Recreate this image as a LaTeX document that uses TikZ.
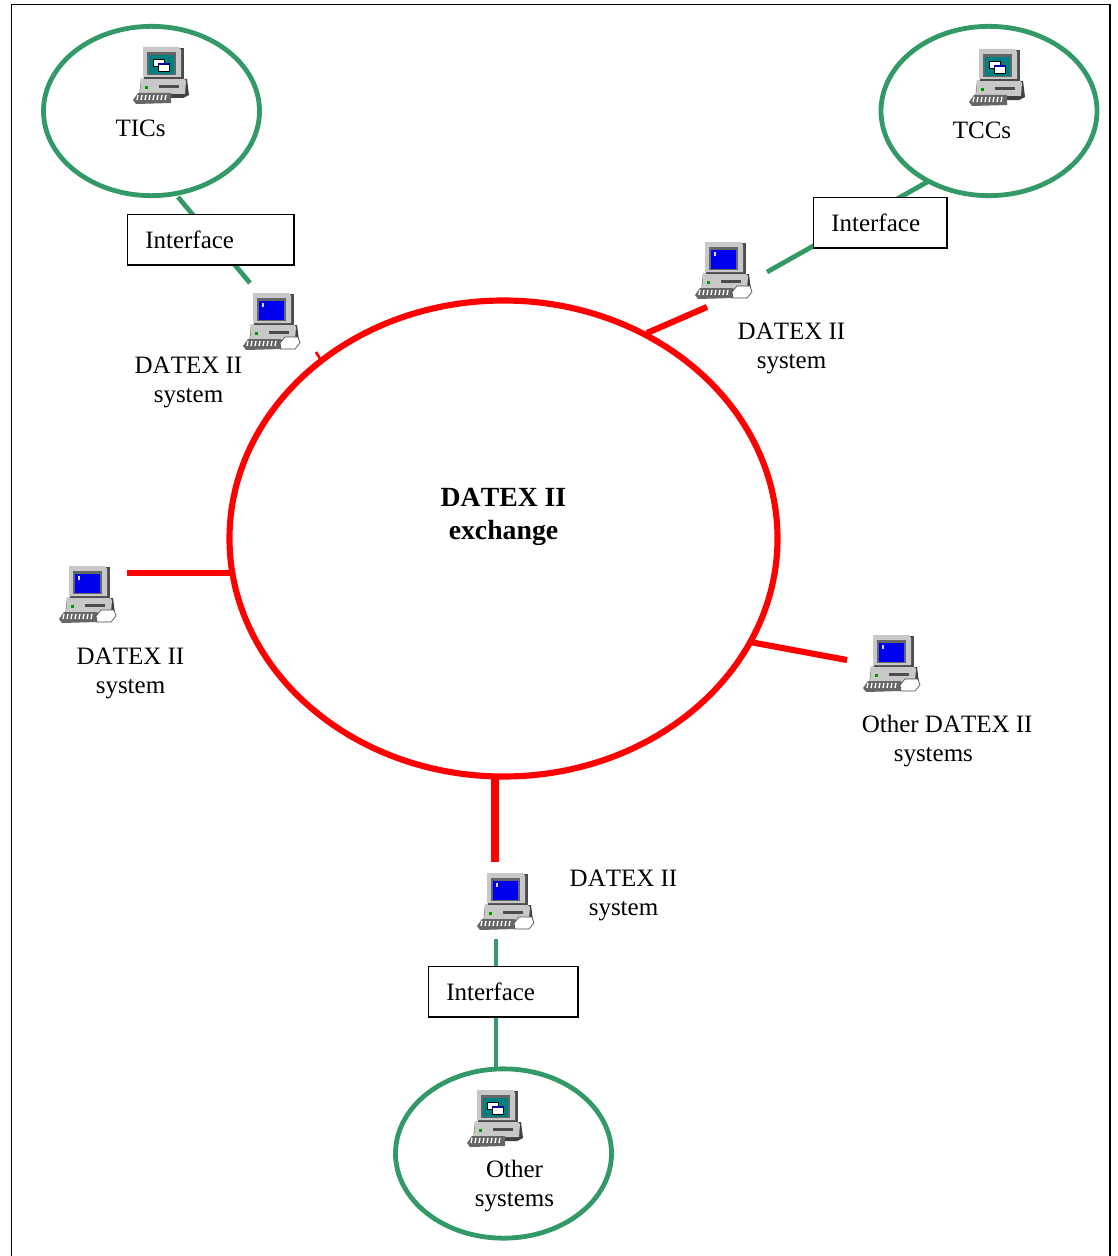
\documentclass[tikz,border=0pt]{standalone}
\usepackage{fontspec}
\setmainfont[Kerning=Off]{Liberation Serif}
\usetikzlibrary{shapes.geometric}
\definecolor{dgreen}{HTML}{339966}
\definecolor{dred}{HTML}{FF0000}
\definecolor{icongrey}{HTML}{C8C8C8}
\definecolor{scrblue}{HTML}{0000F0}
\definecolor{scrteal}{HTML}{008080}
\tikzset{
  every node/.style={font=\fontsize{18.75pt}{21.4pt}\selectfont},
  ring/.style={ellipse,draw=dgreen,line width=3.6pt,inner sep=0pt,outer sep=0pt,fill=none},
  mainring/.style={ellipse,draw=dred,line width=4.6pt,inner sep=0pt,outer sep=0pt,fill=none},
  glink/.style={draw=dgreen,line width=3.6pt},
  rlink/.style={draw=dred,line width=4.6pt},
  rlinkthick/.style={draw=dred,line width=5.5pt},
  ifbox/.style={draw=black,line width=1.1pt,fill=white,minimum height=38pt,inner sep=0pt,outer sep=0pt,anchor=north west},
  lbl/.style={align=center,inner sep=0pt},
  pics/computer/.style={code={
    % case + keyboard
    \fill[black!75] (8,32) -- (54,32) -- (56,48) -- (50,51) -- (6,51) -- cycle;
    \fill[icongrey] (8,31) -- (50,31) -- (53,34) -- (52,47) -- (7,47) -- cycle;
    \fill[green!60!black] (12,39) rectangle (15,42);
    \fill[black!70] (26,38) rectangle (46,41);
    \fill[black!60] (0,53) -- (5,46) -- (38,46) -- (38,56) -- (3,57) -- cycle;
    \foreach \k in {4,8,...,32}{\draw[white,line width=1pt] (\k+1,48) -- (\k,53);}
    % monitor
    \fill[black!70] (11,1) rectangle (51,32);
    \fill[icongrey] (10,0) -- (46,0) -- (48,3) -- (48,30) -- (10,30) -- cycle;
    \fill[black!60] (14,5) rectangle (43,28);
    \fill[#1] (16,8) rectangle (41,27);
  }},
  pics/computerb/.style={code={
    \pic {computer=scrblue};
    \fill[white!85!blue] (19,10) rectangle (21,14);
    \fill[white,draw=black!70,line width=.5pt] (37,50) -- (42,44) -- (55,44) -- (57,50) -- (52,56) -- (38,56) -- cycle;
  }},
  pics/computerw/.style={code={
    \pic {computer=scrteal};
    \fill[white,draw=black,line width=.4pt] (20,12) rectangle (31,19);
    \fill[white,draw=black,line width=.4pt] (25,16) rectangle (36,24);
    \fill[blue!70!black] (25,16) rectangle (36,18);
  }},
}
\begin{document}
\begin{tikzpicture}[x=0.75pt,y=-0.75pt]
\useasboundingbox (0,0) rectangle (1117,1256);
\fill[white] (0,0) rectangle (1117,1256);
\draw[black,line width=1.4pt] (11.5,1256) -- (11.5,4.5) -- (1110,4.5) -- (1110,1256);

% rings
\node[mainring,minimum width=411pt,minimum height=357pt] (exch) at (503.5,538.5) {};
\node[ring,minimum width=162pt,minimum height=127pt] (tics) at (151.5,111) {};
\node[ring,minimum width=162pt,minimum height=127pt] (tccs) at (989,111) {};
\node[ring,minimum width=162pt,minimum height=127pt] (other) at (503.5,1153.5) {};

% free ends of connectors
\coordinate (a1) at (178,197);
\coordinate (a2) at (250,283);
\coordinate (b1) at (929,181);
\coordinate (b2) at (767,272);
\coordinate (c1) at (707,307);
\coordinate (c2) at (647,333);
\coordinate (d1) at (127,573);
\coordinate (d2) at (231,573);
\coordinate (e1) at (750,642);
\coordinate (e2) at (847,660);
\coordinate (f1) at (495,777);
\coordinate (f2) at (495,862);
\coordinate (g1) at (496,939);
\coordinate (g2) at (496,1068);
\coordinate (h1) at (316,352);
\coordinate (h2) at (322,362);

% connectors
\draw[glink] (a1) -- (a2);
\draw[glink] (b1) -- (b2);
\draw[glink] (g1) -- (g2);
\draw[rlink] (c1) -- (c2);
\draw[rlink] (d1) -- (d2);
\draw[rlink] (e1) -- (e2);
\draw[rlinkthick] (f1) -- (f2);
\draw[dred,line width=2pt] (h1) -- (h2);

% interface boxes
\node[ifbox,minimum width=125pt] (if1) at (127.5,214.5) {};
\node[ifbox,minimum width=100pt] (if2) at (813.5,197.5) {};
\node[ifbox,minimum width=112pt] (if3) at (428.5,966.5) {};
\node[lbl,anchor=base west] (if1t) at (145,248) {Interface};
\node[lbl,anchor=base west] (if2t) at (831,231) {Interface};
\node[lbl,anchor=base west] (if3t) at (446,1000) {Interface};

% computers
\pic at (133,47) {computerw};
\pic at (969,49) {computerw};
\pic at (467,1090) {computerw};
\pic at (243,293) {computerb};
\pic at (695,242) {computerb};
\pic at (59,566) {computerb};
\pic at (863,635) {computerb};
\pic at (477,873) {computerb};

% labels
\node[lbl,anchor=base] (tl) at (140.5,136) {TICs};
\node[lbl,anchor=base] (tr) at (982,138) {TCCs};
\node[lbl,anchor=base,font=\fontsize{20.8pt}{24.6pt}\selectfont\bfseries] (mid) at (503.5,539) {DATEX II\\exchange};
\node[lbl,anchor=base] (s1) at (188.5,402.5) {DATEX II\\system};
\node[lbl,anchor=base] (s2) at (791.5,368.5) {DATEX II\\system};
\node[lbl,anchor=base] (s3) at (130.5,693.5) {DATEX II\\system};
\node[lbl,anchor=base] (s4) at (623.5,915.5) {DATEX II\\system};
\node[lbl,anchor=base west,align=left] (s5) at (861.5,761.5) {Other DATEX II\\\hspace*{24pt}systems};
\node[lbl,anchor=base] (s6) at (514.5,1206) {Other\\systems};
\end{tikzpicture}
\end{document}
